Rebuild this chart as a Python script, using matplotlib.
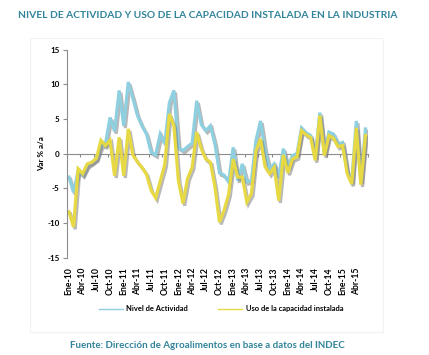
import matplotlib
matplotlib.use("Agg")
import matplotlib.pyplot as plt
import matplotlib.patheffects as pe
from matplotlib.lines import Line2D
from matplotlib.patches import Rectangle

# ---------- Datos (var % a/a, Ene-10 a Jun-15) ----------
meses = ["Ene", "Feb", "Mar", "Abr", "May", "Jun", "Jul", "Ago", "Sep", "Oct", "Nov", "Dic"]
periodos = [f"{m}-{a}" for a in range(10, 16) for m in meses][:66]

actividad = [
    -3.4, -5.6, -2.5, -3.1, -1.8, -1.3, -0.8, 1.0, 1.4, 5.2, 3.2, 9.1,
    4.0, 10.3, 8.0, 5.5, 4.0, 2.8, 0.2, -0.2, 2.8, 1.4, 7.3, 9.1,
    0.9, 0.4, 1.0, 1.5, 7.6, 4.2, 3.3, 4.0, 1.4, -2.8, -3.1, -4.1,
    0.9, -3.9, -1.5, -4.1, -3.9, 1.9, 4.7, 0.4, -2.2, -1.5, -3.4, 0.7,
    -2.0, -0.3, 0.0, 3.7, 3.0, 2.6, -0.6, 5.9, 0.0, 3.1, 2.8, 1.4,
    1.6, -2.6, -4.1, 4.7, -4.1, 3.55,
]
capacidad = [
    -8.4, -10.6, -2.2, -2.9, -1.5, -1.25, -0.7, 1.9, 1.15, 1.9, -3.2, 2.35,
    -3.2, 3.55, -0.2, -1.2, -2.0, -3.0, -5.3, -6.4, -4.0, -1.6, 5.7, 4.0,
    -4.0, -7.2, -3.6, -2.0, 3.1, 0.7, -0.8, -1.25, -4.8, -9.9, -8.2, -5.9,
    -0.8, -3.4, -3.4, -7.0, -5.8, 0.4, 2.1, -1.9, -2.9, -2.0, -6.8, -0.2,
    -2.8, -0.8, -0.5, 3.3, 2.7, 2.3, -1.0, 5.5, -0.3, 2.6, 2.2, 1.0,
    1.15, -2.9, -4.4, 3.7, -4.5, 2.6,
]
etiquetas = ["Ene-10", "Abr-10", "Jul-10", "Oct-10", "Ene-11", "Abr-11", "Jul-11", "Oct-11",
             "Ene-12", "Abr-12", "Jul-12", "Oct-12", "Ene-13", "Abr-13", "Jul-13", "Oct-13",
             "Ene-14", "Abr-14", "Jul-14", "Oct-14", "Ene-15", "Abr-15"]
y_ticks = [15, 10, 5, 0, -5, -10, -15]

# ---------- Estilos ----------
azul = "#8ecfe0"
amarillo = "#e6d944"
teal = "#31849b"
gris = "#8c8c8c"
fuente = "Lato"

fig = plt.figure(figsize=(4.29, 3.55), dpi=100)
ax = fig.add_axes([0.1555, 0.2746, 0.7016, 0.5859])

x = list(range(len(periodos)))
sombra = [pe.SimpleLineShadow(offset=(1.2, -1.6), shadow_color="#7f7f7f", alpha=0.55), pe.Normal()]
ax.plot(x, actividad, color=azul, lw=2.3, path_effects=sombra, solid_joinstyle="miter")
ax.plot(x, capacidad, color=amarillo, lw=2.3, path_effects=sombra, solid_joinstyle="miter")

ax.set_xlim(-0.5, len(periodos) - 0.5)
ax.set_ylim(-15, 15)

# eje y
ax.set_yticks(y_ticks)
ax.set_yticklabels([str(v) for v in y_ticks], fontsize=5.8, fontweight="bold", family=fuente)
ax.tick_params(axis="y", length=3, color=gris, pad=2)
ax.spines["left"].set_color(gris)
ax.spines["left"].set_linewidth(0.8)
for s in ["top", "right", "bottom"]:
    ax.spines[s].set_visible(False)
ax.set_ylabel("Var % a/a", fontsize=5.8, fontweight="bold", family=fuente, labelpad=1.5)

# etiquetas x abajo
pos_etq = [periodos.index(e) for e in etiquetas]
ax.set_xticks(pos_etq)
ax.set_xticklabels(etiquetas, rotation=90, fontsize=6.2, fontweight="bold", family=fuente)
ax.tick_params(axis="x", length=0, pad=7)

# eje de categorias sobre el cero
eje0 = ax.secondary_xaxis(0, transform=ax.transData)
eje0.set_xticks([p - 0.5 for p in pos_etq] + [len(periodos) - 0.5])
eje0.set_xticklabels([])
eje0.tick_params(axis="x", length=2.5, color=gris, width=0.8)
eje0.spines["bottom"].set_color(gris)
eje0.spines["bottom"].set_linewidth(0.8)

# marco tenue del grafico
fig.patches.append(Rectangle((0.07, 0.065), 0.823, 0.828, transform=fig.transFigure,
                             fill=False, edgecolor="#f2f2f2", lw=0.8))

# leyenda
handles = [Line2D([], [], color=azul, lw=1), Line2D([], [], color=amarillo, lw=1)]
fig.legend(handles, ["Nivel de Actividad", "Uso de la capacidad instalada"],
           loc="center", bbox_to_anchor=(0.515, 0.13), ncol=2, frameon=False,
           prop={"family": fuente, "weight": "bold", "size": 5.4},
           handlelength=3.2, columnspacing=4.0, handletextpad=0.5)

fig.text(0.042, 0.957, "NIVEL DE ACTIVIDAD Y USO DE LA CAPACIDAD INSTALADA EN LA INDUSTRIA",
         fontsize=7.4, fontweight="bold", color=teal, family=fuente, va="center", ha="left")
fig.text(0.163, 0.028, "Fuente: Dirección de Agroalimentos en base a datos del INDEC",
         fontsize=7, fontweight="bold", color=teal, family=fuente, va="center", ha="left")

fig.savefig("out.png", dpi=100)
